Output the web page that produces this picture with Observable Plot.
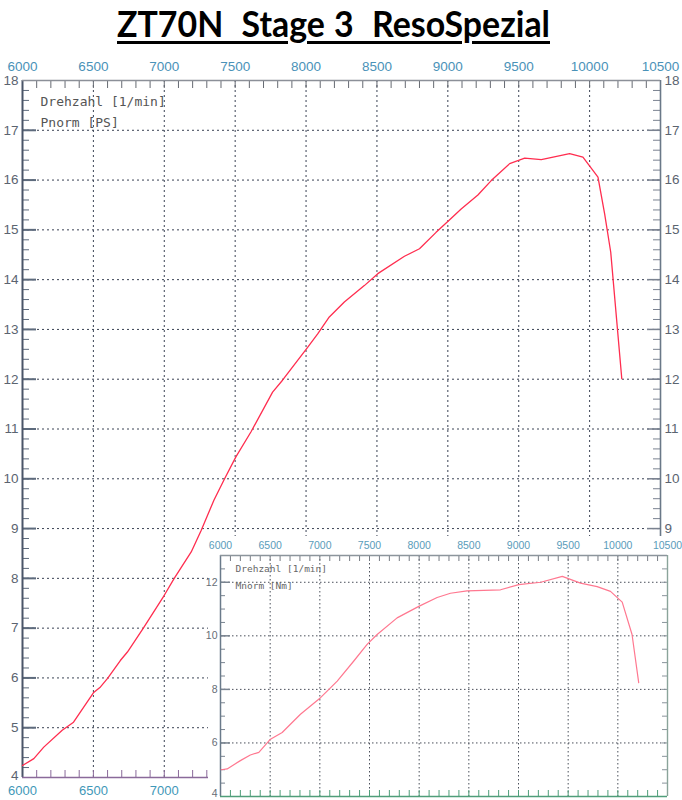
<!DOCTYPE html>
<html><head><meta charset="utf-8">
<script src="https://cdn.jsdelivr.net/npm/d3@7"></script>
<script src="https://cdn.jsdelivr.net/npm/@observablehq/plot@0.6"></script>
<style>
html,body{margin:0;padding:0;background:#fff;}
#wrap{position:relative;width:682px;height:800px;overflow:hidden;background:#fff;}
#main{position:absolute;left:0;top:0;}
#inset{position:absolute;left:208px;top:536px;}
#title{position:absolute;left:117px;top:0px;height:50px;white-space:pre;font-family:Lato,"Open Sans",sans-serif;font-weight:bold;font-size:37px;line-height:46px;word-spacing:1px;color:#000;text-decoration:underline;text-decoration-thickness:3px;text-underline-offset:4px;transform-origin:0 0;}
</style></head><body>
<div id="wrap"><div id="main"></div><div id="inset"></div><span id="title">ZT70N  Stage 3  ResoSpezial</span></div>
<script>
// ---- data: power curve (main chart) ----
const powerRpm = [6000,6080,6150,6280,6360,6500,6550,6600,6690,6740,6850,7000,7070,7190,7260,7350,7420,7505,7611,7764,7834,8011,8082,8164,8270,8411,8506,8694,8800,8917,9011,9094,9212,9306,9436,9542,9659,9859,9953,10059,10106,10149,10227];
const powerPS  = [4.24,4.38,4.61,4.95,5.11,5.70,5.82,5.99,6.35,6.52,6.99,7.66,8.00,8.53,8.96,9.57,9.97,10.44,10.94,11.74,11.98,12.64,12.91,13.25,13.55,13.88,14.12,14.47,14.62,14.95,15.20,15.42,15.70,15.99,16.33,16.44,16.41,16.53,16.46,16.06,15.32,14.55,12.01];
// ---- data: torque curve (inset) ----
const torqueRpm = [6007,6067,6200,6300,6386,6503,6621,6805,7007,7175,7342,7476,7577,7778,7996,8181,8315,8482,8819,9003,9224,9441,9624,9792,9926,10044,10143,10210];
const torqueNm  = [5.00,5.03,5.34,5.55,5.65,6.14,6.39,7.07,7.69,8.31,9.06,9.68,10.05,10.67,11.10,11.43,11.59,11.68,11.72,11.91,12.00,12.22,11.97,11.84,11.66,11.26,10.05,8.25];
// ---- tick labels ----
const mainXTop = [6000,6500,7000,7500,8000,8500,9000,9500,10000,10500];
const mainXBottom = [6000,6500,7000];
const mainYLeft = [5,6,7,8,9,10,11,12,13,14,15,16,17,18];
const mainYLeftBottom = [4];
const mainYRight = [9,10,11,12,13,14,15,16,17,18];
const insetX = [6000,6500,7000,7500,8000,8500,9000,9500,10000,10500];
const insetY = [6,8,10,12];
const insetYBottom = [4];
const mainLegend = ["Drehzahl [1/min]", "Pnorm [PS]"];
const insetLegend = ["Drehzahl [1/min]", "Mnorm [Nm]"];

const power = powerRpm.map((r,i)=>({rpm:r, v:powerPS[i]}));
const torque = torqueRpm.map((r,i)=>({rpm:r, v:torqueNm[i]}));

const gridXMain = d3.range(6500, 10001, 500);
const gridYMain = d3.range(5, 18, 1);
const minorX = d3.range(6100, 10500, 100);
const minorYMain = d3.range(21, 90).map(i=>i/5);
const minorYInset = d3.range(9, 26).map(i=>i/2);
const fmt = d => String(d);
const axisFont = "'Liberation Sans', Arial, sans-serif";
const mono = "'DejaVu Sans Mono', monospace";

// ---- main chart ----
const MW=682, MH=800, mT=80, mB=23, mL=22, mR=22;
const mPH = MH-mT-mB, mPW = MW-mL-mR;
const main = Plot.plot({
  width: MW, height: MH,
  marginTop: mT, marginBottom: mB, marginLeft: mL, marginRight: mR,
  x: {domain:[6000,10500]},
  y: {domain:[4,18]},
  style: {background:"transparent", overflow:"visible"},
  marks: [
    Plot.ruleX(gridXMain, {stroke:"#3a4254", strokeDasharray:"2,3"}),
    Plot.ruleY(gridYMain, {stroke:"#3a4254", strokeDasharray:"2,3"}),
    Plot.tickX(minorX, {stroke:"#666a72", insetBottom: mPH-8}),
    Plot.tickX(minorX, {stroke:"#8a6a9a", insetTop: mPH-7}),
    Plot.tickY(minorYMain, {stroke:"#5d6a7c", insetRight: mPW-7}),
    Plot.tickY(gridYMain, {stroke:"#5d6a7c", strokeWidth:2, insetRight: mPW-14}),
    Plot.tickY(minorYMain, {stroke:"#7a8290", insetLeft: mPW-7}),
    Plot.tickY(gridYMain, {stroke:"#7a8290", strokeWidth:1.5, insetLeft: mPW-13}),
    Plot.ruleX([6000], {stroke:"#4a5568", strokeWidth:2}),
    Plot.ruleX([10500], {stroke:"#6a7888", strokeWidth:1.6}),
    Plot.ruleY([18], {stroke:"#8c9098", strokeWidth:1.5}),
    Plot.ruleY([4], {stroke:"#8a6a9a", strokeWidth:1.5}),
    Plot.line(power, {x:"rpm", y:"v", stroke:"#ff2d4f", strokeWidth:1.3}),
    Plot.axisX(mainXTop, {anchor:"top", tickSize:0, tickPadding:10, fontSize:13.5, fontFamily:axisFont, fill:"#4a92b8", tickFormat:fmt, label:null}),
    Plot.axisX(mainXBottom, {anchor:"bottom", tickSize:0, tickPadding:8, fontSize:13, fontFamily:axisFont, fill:"#3f98b8", tickFormat:fmt, label:null}),
    Plot.axisY(mainYLeft, {anchor:"left", tickSize:0, tickPadding:4, fontSize:13.5, fontFamily:axisFont, fill:"#5b6470", tickFormat:fmt, label:null}),
    Plot.axisY(mainYLeftBottom, {anchor:"left", tickSize:0, tickPadding:4, fontSize:13.5, fontFamily:axisFont, fill:"#5b6470", tickFormat:fmt, label:null, dy:-2}),
    Plot.axisY(mainYRight, {anchor:"right", tickSize:0, tickPadding:4, fontSize:13.5, fontFamily:axisFont, fill:"#5b6470", tickFormat:fmt, label:null}),
    Plot.text([mainLegend[0]], {text:d=>d, frameAnchor:"top-left", dx:18, dy:21, textAnchor:"start", lineAnchor:"middle", fontFamily:mono, fontSize:13, fill:"#555"}),
    Plot.text([mainLegend[1]], {text:d=>d, frameAnchor:"top-left", dx:18, dy:42, textAnchor:"start", lineAnchor:"middle", fontFamily:mono, fontSize:13, fill:"#555"})
  ]
});
document.getElementById("main").append(main);

// ---- inset chart ----
const IW=474, IH=264, iT=19, iB=4, iL=12, iR=15;
const iPH = IH-iT-iB, iPW = IW-iL-iR;
const inset = Plot.plot({
  width: IW, height: IH,
  marginTop: iT, marginBottom: iB, marginLeft: iL, marginRight: iR,
  x: {domain:[6000,10500]},
  y: {domain:[4,13]},
  style: {background:"#fff", overflow:"visible"},
  marks: [
    Plot.ruleX(gridXMain, {stroke:"#4a4f5a", strokeDasharray:"1.5,2.5"}),
    Plot.ruleY([6,8,10,12], {stroke:"#4a4f5a", strokeDasharray:"1.5,2.5"}),
    Plot.tickX(minorX, {stroke:"#777c84", insetBottom: iPH-6}),
    Plot.tickX(minorX, {stroke:"#4f9e7a", insetTop: iPH-6}),
    Plot.tickY(minorYInset, {stroke:"#7a8490", insetRight: iPW-5}),
    Plot.tickY([6,8,10,12], {stroke:"#7a8490", strokeWidth:1.5, insetRight: iPW-10}),
    Plot.tickY(minorYInset, {stroke:"#8a949c", insetLeft: iPW-5}),
    Plot.ruleX([6000], {stroke:"#6a7a8a", strokeWidth:1.5}),
    Plot.ruleX([10500], {stroke:"#8aa49a", strokeWidth:1.4}),
    Plot.ruleY([13], {stroke:"#8c959c", strokeWidth:1.4}),
    Plot.ruleY([4], {stroke:"#4f9e7a", strokeWidth:1.5}),
    Plot.line(torque, {x:"rpm", y:"v", stroke:"#ff7890", strokeWidth:1.2}),
    Plot.axisX(insetX, {anchor:"top", tickSize:0, tickPadding:7, fontSize:10.5, fontFamily:axisFont, fill:"#5a9cba", tickFormat:fmt, label:null}),
    Plot.axisY(insetY, {anchor:"left", tickSize:0, tickPadding:3, fontSize:10.5, fontFamily:axisFont, fill:"#666d76", tickFormat:fmt, label:null}),
    Plot.axisY(insetYBottom, {anchor:"left", tickSize:0, tickPadding:3, fontSize:10.5, fontFamily:axisFont, fill:"#666d76", tickFormat:fmt, label:null, dy:-3}),
    Plot.text([insetLegend[0]], {text:d=>d, frameAnchor:"top-left", dx:15, dy:13, textAnchor:"start", lineAnchor:"middle", fontFamily:mono, fontSize:9.5, fill:"#666"}),
    Plot.text([insetLegend[1]], {text:d=>d, frameAnchor:"top-left", dx:15, dy:30, textAnchor:"start", lineAnchor:"middle", fontFamily:mono, fontSize:9.5, fill:"#666"})
  ]
});
document.getElementById("inset").append(inset);

// fit the title to the reference width
const t = document.getElementById("title");
const w = t.getBoundingClientRect().width;
t.style.transform = `scaleX(${433 / w})`;
</script>
</body></html>
